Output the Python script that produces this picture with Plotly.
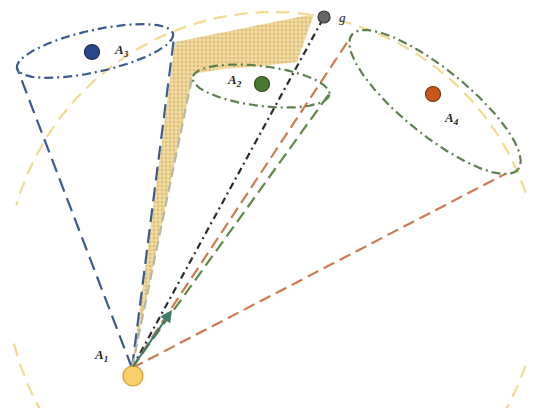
import numpy as np
import plotly.graph_objects as go

# ---- data (diagram coordinates in a 535 x 408 pixel-like space, y downward) ----
origin = (132, 368)                      # A1 apex where rays meet
big_circle = dict(cx=273, cy=279, r=267)  # large dashed circle
circle_gap_deg = (164, 194)              # open (hidden) part on the left of the circle

nodes_name = ["A1", "A3", "A2", "A4", "g"]
nodes_x = [133, 92, 262, 433, 324]
nodes_y = [376, 52, 84, 94, 17]
nodes_color = ["#F8D06A", "#28468A", "#477A30", "#C9561A", "#666666"]
nodes_line = ["#D39A33", "#1E2F5C", "#2F4A22", "#7A3410", "#3A3A3A"]
nodes_size = [20, 15, 15, 15, 12]

labels_text = ["A<sub>1</sub>", "A<sub>3</sub>", "A<sub>2</sub>", "A<sub>4</sub>", "g"]
labels_x = [101, 121, 234, 451, 342]
labels_y = [355, 50, 80, 118, 17]

# ellipses: center x, center y, semi-major, semi-minor, tilt (deg), colour
ell_cx = [95, 261, 435]
ell_cy = [51, 86, 102]
ell_a = [80, 69, 107]
ell_b = [21, 20, 33]
ell_ang = [-12.6, 7, 39]
ell_col = ["#3B5A94", "#5E8050", "#5E8050"]

# rays from the origin: end x, end y, colour, dash
ray_x = [17, 174, 324, 352, 505, 329, 192]
ray_y = [68, 38, 17, 35, 174, 94, 78]
ray_col = ["#3B5A94", "#3B5A94", "#2B2B2B", "#D07A4E", "#D07A4E", "#5E8A45", "#B8B8A0"]
ray_dash = ["14px,7px", "14px,7px", "7px,4px,2px,4px", "12px,6px", "12px,6px", "12px,6px", "10px,5px"]

# shaded wedge outline
wedge_x = [132, 175, 314, 297, 262, 222, 193, 132]
wedge_y = [368, 42, 14, 62, 66, 69, 74, 368]

arrow_end = (172, 310)

# page body margin compensation
OFF = 8
W, H = 535, 408

fig = go.Figure()

# shaded wedge
fig.add_trace(go.Scatter(
    x=wedge_x, y=wedge_y, mode="lines", fill="toself",
    line=dict(width=0), fillcolor="#EED497",
    fillpattern=dict(shape=".", fgcolor="#C9A04C", bgcolor="#F3DDA5", size=4, solidity=0.45),
    hoverinfo="skip", showlegend=False))

# big dashed circle (with an open part on the left)
t = np.linspace(0, 2 * np.pi, 400)
g0, g1 = np.deg2rad(circle_gap_deg[0]), np.deg2rad(circle_gap_deg[1])
tc = np.linspace(g1, g0 + 2 * np.pi, 500)
fig.add_trace(go.Scatter(
    x=big_circle["cx"] + big_circle["r"] * np.cos(tc),
    y=big_circle["cy"] - big_circle["r"] * np.sin(tc),
    mode="lines", line=dict(color="#F2DA8E", width=2.2, dash="13px,8px"),
    hoverinfo="skip", showlegend=False))

# rays
for ex, ey, c, d in zip(ray_x, ray_y, ray_col, ray_dash):
    fig.add_trace(go.Scatter(
        x=[origin[0], ex], y=[origin[1], ey], mode="lines",
        line=dict(color=c, width=2.2, dash=d), hoverinfo="skip", showlegend=False))

# ellipses
for cx, cy, a, b, ang, c in zip(ell_cx, ell_cy, ell_a, ell_b, ell_ang, ell_col):
    th = np.deg2rad(ang)
    ex = cx + a * np.cos(t) * np.cos(th) - b * np.sin(t) * np.sin(th)
    ey = cy + a * np.cos(t) * np.sin(th) + b * np.sin(t) * np.cos(th)
    fig.add_trace(go.Scatter(
        x=ex, y=ey, mode="lines",
        line=dict(color=c, width=2.2, dash="9px,4px,2px,4px"),
        hoverinfo="skip", showlegend=False))

# nodes
fig.add_trace(go.Scatter(
    x=nodes_x, y=nodes_y, mode="markers",
    marker=dict(size=nodes_size, color=nodes_color, opacity=1,
                line=dict(color=nodes_line, width=1.2)),
    hovertext=nodes_name, showlegend=False))

# arrow
fig.add_annotation(
    x=arrow_end[0], y=arrow_end[1], ax=origin[0], ay=origin[1],
    xref="x", yref="y", axref="x", ayref="y", text="",
    showarrow=True, arrowhead=2, arrowsize=1.2, arrowwidth=2, arrowcolor="#3F7A6A")

# labels
for tx, x, y in zip(labels_text, labels_x, labels_y):
    fig.add_annotation(
        x=x, y=y, xref="x", yref="y", text="<i><b>" + tx + "</b></i>" if tx != "g" else "<i>g</i>",
        showarrow=False, font=dict(family="Liberation Serif", size=13, color="#222222"))

fig.update_xaxes(range=[OFF, W], visible=False, showgrid=False, zeroline=False)
fig.update_yaxes(range=[H, OFF], visible=False, showgrid=False, zeroline=False)
fig.update_layout(
    width=W - OFF, height=H - OFF, margin=dict(l=0, r=0, t=0, b=0),
    paper_bgcolor="white", plot_bgcolor="white", showlegend=False)

fig.write_html("out.html")
